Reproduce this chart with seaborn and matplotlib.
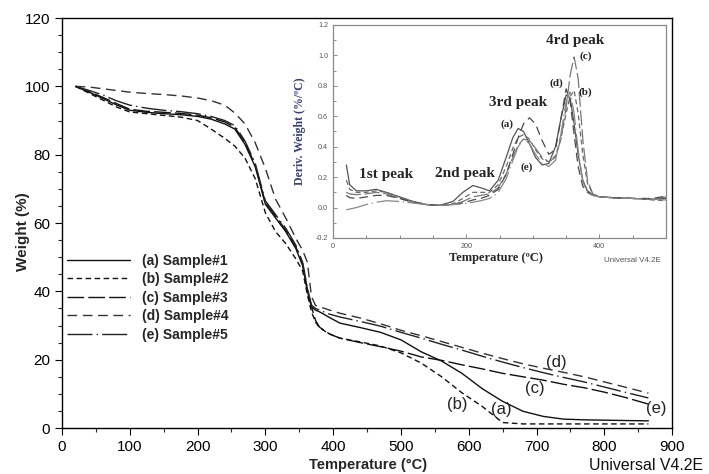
import numpy as np
import pandas as pd
import matplotlib
matplotlib.use("Agg")
import matplotlib.pyplot as plt
from matplotlib.lines import Line2D
from matplotlib.ticker import MultipleLocator, FormatStrFormatter
import seaborn as sns

# ---------------- TGA weight-loss curves ----------------
temp_c = [20, 40, 60, 80, 100, 125, 150, 175, 200, 220, 240, 255, 270, 285, 300,
          315, 330, 345, 355, 362, 368, 374, 380, 395, 410, 440, 470, 500, 530,
          560, 590, 620, 650, 680, 710, 740, 770, 800, 830, 865]

weight_a = [100, 98.3, 96.5, 94.6, 93.0, 92.4, 92.0, 91.7, 91.2, 90.4, 89.0, 87.5,
            83.0, 76.5, 65.5, 61.5, 57.5, 52.5, 47.5, 40.0, 35.5, 34.5, 34.0, 32.3,
            30.7, 29.4, 28.0, 25.8, 22.3, 19.6, 16.0, 11.5, 7.8, 4.9, 3.4, 2.6, 2.4,
            2.3, 2.2, 2.1]
weight_b = [100, 98.0, 96.0, 94.0, 92.5, 92.0, 91.5, 91.0, 90.0, 87.5, 84.8, 82.5,
            79.0, 73.0, 63.0, 57.5, 54.0, 49.5, 46.0, 39.0, 34.0, 31.0, 29.3, 27.5,
            26.3, 25.2, 24.0, 22.0, 19.0, 15.0, 10.3, 6.3, 1.6, 1.2, 1.2, 1.2, 1.2,
            1.2, 1.2, 1.2]
weight_c = [100, 98.4, 96.8, 95.0, 93.3, 92.7, 92.4, 92.1, 91.6, 90.8, 89.6, 88.0,
            83.5, 77.0, 66.0, 62.0, 58.0, 53.0, 48.0, 40.5, 35.5, 31.5, 29.5, 27.5,
            26.3, 25.0, 23.8, 22.5, 20.8, 19.8, 18.5, 17.3, 16.0, 15.0, 14.0, 12.8,
            11.8, 10.5, 9.0, 7.0]
weight_d = [100, 99.8, 99.3, 98.8, 98.3, 97.9, 97.6, 97.2, 96.6, 95.8, 94.5, 92.2,
            89.0, 83.5, 76.0, 67.0, 61.5, 55.5, 52.0, 48.5, 38.5, 35.9, 35.5, 34.5,
            33.6, 32.2, 30.5, 28.6, 27.0, 25.3, 23.6, 21.9, 20.3, 18.8, 17.5, 16.3,
            15.0, 13.5, 12.0, 10.2]
weight_e = [100, 98.8, 97.5, 95.8, 94.5, 93.6, 93.0, 92.6, 92.0, 91.2, 90.0, 88.5,
            84.0, 77.5, 66.5, 62.5, 58.5, 53.5, 48.5, 41.0, 36.0, 35.0, 34.5, 33.3,
            32.5, 31.2, 29.8, 28.0, 26.3, 24.5, 22.8, 21.0, 19.3, 17.7, 16.2, 14.8,
            13.5, 12.0, 10.5, 8.8]

sample_names = ["(a) Sample#1", "(b) Sample#2", "(c) Sample#3", "(d) Sample#4", "(e) Sample#5"]
curve_tags = ["(a)", "(b)", "(c)", "(d)", "(e)"]
tga_weights = [weight_a, weight_b, weight_c, weight_d, weight_e]

# ---------------- DTG curves (inset) ----------------
dtg_temp = [20, 25, 35, 50, 65, 80, 100, 120, 140, 160, 180, 195, 210, 222, 235,
            248, 260, 270, 278, 286, 295, 304, 314, 324, 334, 342, 350, 356, 362,
            368, 375, 382, 390, 400, 420, 450, 480, 500]

dtg_a = [0.28, 0.15, 0.11, 0.11, 0.12, 0.10, 0.07, 0.04, 0.02, 0.015, 0.04, 0.10,
         0.145, 0.13, 0.11, 0.18, 0.33, 0.46, 0.52, 0.50, 0.42, 0.33, 0.28, 0.29,
         0.40, 0.58, 0.74, 0.72, 0.55, 0.35, 0.18, 0.11, 0.085, 0.07, 0.065, 0.06,
         0.055, 0.06]
dtg_b = [0.18, 0.12, 0.10, 0.10, 0.11, 0.10, 0.07, 0.04, 0.02, 0.015, 0.025, 0.06,
         0.10, 0.10, 0.10, 0.15, 0.27, 0.39, 0.46, 0.48, 0.45, 0.38, 0.32, 0.30,
         0.34, 0.45, 0.62, 0.73, 0.77, 0.62, 0.35, 0.16, 0.09, 0.07, 0.065, 0.06,
         0.05, 0.045]
dtg_c = [0.10, 0.09, 0.085, 0.09, 0.10, 0.09, 0.06, 0.035, 0.02, 0.015, 0.02, 0.04,
         0.07, 0.08, 0.09, 0.13, 0.22, 0.33, 0.41, 0.45, 0.44, 0.39, 0.33, 0.30,
         0.33, 0.45, 0.66, 0.87, 0.99, 0.85, 0.45, 0.18, 0.09, 0.07, 0.065, 0.06,
         0.055, 0.07]
dtg_d = [0.08, 0.065, 0.06, 0.07, 0.08, 0.08, 0.06, 0.035, 0.02, 0.015, 0.02, 0.03,
         0.05, 0.06, 0.08, 0.12, 0.22, 0.35, 0.46, 0.55, 0.59, 0.55, 0.44, 0.35,
         0.38, 0.58, 0.78, 0.70, 0.48, 0.27, 0.14, 0.10, 0.08, 0.07, 0.065, 0.06,
         0.06, 0.075]
dtg_e = [-0.015, -0.01, 0.0, 0.02, 0.035, 0.045, 0.04, 0.03, 0.02, 0.015, 0.02,
         0.025, 0.035, 0.045, 0.06, 0.10, 0.19, 0.31, 0.40, 0.45, 0.42, 0.35, 0.29,
         0.27, 0.31, 0.48, 0.70, 0.76, 0.62, 0.38, 0.17, 0.10, 0.08, 0.07, 0.065,
         0.06, 0.055, 0.05]
dtg_values = [dtg_a, dtg_b, dtg_c, dtg_d, dtg_e]

peak_names = ["1st peak", "2nd peak", "3rd peak", "4rd peak"]

# ---------------- styling ----------------
line_styles = ["-", (0, (4, 2.5)), (0, (12, 3)), (0, (7, 4)), (0, (18, 3, 1, 3))]
line_colors = ["#111111", "#111111", "#111111", "#333333", "#222222"]
dtg_colors = ["#555555", "#6a6a6a", "#777777", "#4a4a4a", "#888888"]

sns.set_style("ticks")
plt.rcParams["font.family"] = ["Liberation Sans", "DejaVu Sans"]

fig = plt.figure(figsize=(7.09, 4.74), dpi=100)
ax = fig.add_axes([0.0874, 0.097, 0.8606, 0.865])

for name, w, ls, col in zip(sample_names, tga_weights, line_styles, line_colors):
    df = pd.DataFrame({"Temperature": temp_c, "Weight": w})
    sns.lineplot(data=df, x="Temperature", y="Weight", ax=ax, color=col,
                 linewidth=1.0, linestyle=ls, legend=False)

ax.set_xlim(0, 900)
ax.set_ylim(0, 120)
ax.xaxis.set_major_locator(MultipleLocator(100))
ax.xaxis.set_minor_locator(MultipleLocator(50))
ax.yaxis.set_major_locator(MultipleLocator(20))
ax.yaxis.set_minor_locator(MultipleLocator(5))
ax.tick_params(which="major", direction="out", length=5, width=0.8, labelsize=11,
               colors="black")
ax.tick_params(which="minor", direction="out", length=3, width=0.8)
for sp in ax.spines.values():
    sp.set_visible(True)
    sp.set_linewidth(1.0)
    sp.set_color("black")

ax.set_xlabel("Temperature (°C)", fontsize=10.5, fontweight="bold")
ax.set_ylabel("Weight (%)", fontsize=11, fontweight="bold")
ax.xaxis.set_label_coords(0.502, -0.074)
ax.yaxis.set_label_coords(-0.052, 0.478)

handles = [Line2D([0], [0], color=c, linestyle=s, linewidth=1.0)
           for c, s in zip(line_colors, line_styles)]
leg = ax.legend(handles, sample_names, loc="upper left", bbox_to_anchor=(0.009, 0.425),
                frameon=False, handlelength=4.5, handletextpad=0.9, labelspacing=0.32,
                borderpad=0, borderaxespad=0, prop={"weight": "bold", "size": 10})

tag_pos = {"(a)": (648, 5.3), "(b)": (583, 7.0), "(c)": (698, 11.6),
           "(d)": (729, 19.2), "(e)": (877, 5.8)}
for tag in curve_tags:
    x, y = tag_pos[tag]
    ax.text(x, y, tag, fontsize=12, ha="center", va="center", color="#222222")

fig.text(589 / 709, 1 - 466 / 474, "Universal V4.2E", fontsize=11.4, ha="left",
         va="center", color="#111111")

# ---------------- inset DTG ----------------
ins = fig.add_axes([0.4697, 0.4979, 0.4697, 0.4494])
ins.set_facecolor("white")
for vals, ls, col in zip(dtg_values, line_styles, dtg_colors):
    df = pd.DataFrame({"Temperature": dtg_temp, "Deriv": vals})
    sns.lineplot(data=df, x="Temperature", y="Deriv", ax=ins, color=col,
                 linewidth=0.9, linestyle=ls, legend=False)

ins.set_xlim(0, 500)
ins.set_ylim(-0.2, 1.2)
ins.xaxis.set_major_locator(MultipleLocator(200))
ins.xaxis.set_minor_locator(MultipleLocator(50))
ins.yaxis.set_major_locator(MultipleLocator(0.2))
ins.yaxis.set_minor_locator(MultipleLocator(0.1))
ins.yaxis.set_major_formatter(FormatStrFormatter("%.1f"))
ins.tick_params(which="both", direction="in", labelsize=5.2, colors="#777777",
                labelcolor="#555555", width=0.6)
ins.tick_params(which="major", length=3)
ins.tick_params(which="minor", length=2)
for sp in ins.spines.values():
    sp.set_visible(True)
    sp.set_color("#8a8a8a")
    sp.set_linewidth(0.9)

serif = ["Liberation Serif", "DejaVu Serif"]
ins.set_xlabel("Temperature (ºC)", fontsize=9, fontweight="bold", family=serif)
ins.set_ylabel("Deriv. Weight (%/ºC)", fontsize=8.5, fontweight="bold", family=serif,
               color="#34407a")
ins.xaxis.set_label_coords(0.49, -0.068)
ins.yaxis.set_label_coords(-0.08, 0.5)

peak_pos = [(80, 0.22), (198, 0.226), (278, 0.69), (364, 1.10)]
for name, (x, y) in zip(peak_names, peak_pos):
    ins.text(x, y, name, fontsize=11, fontweight="bold", family=serif,
             ha="center", va="center")

dtg_tag_pos = {"(a)": (261, 0.545), "(b)": (379, 0.76), "(c)": (379, 0.995),
               "(d)": (335, 0.815), "(e)": (291, 0.266)}
for tag in curve_tags:
    x, y = dtg_tag_pos[tag]
    ins.text(x, y, tag, fontsize=8, fontweight="bold", family=serif,
             ha="center", va="center")

fig.text(632 / 709, 1 - 261 / 474, "Universal V4.2E", fontsize=5.7, ha="center",
         va="center", color="#555555")

fig.savefig("out.png", dpi=100)
